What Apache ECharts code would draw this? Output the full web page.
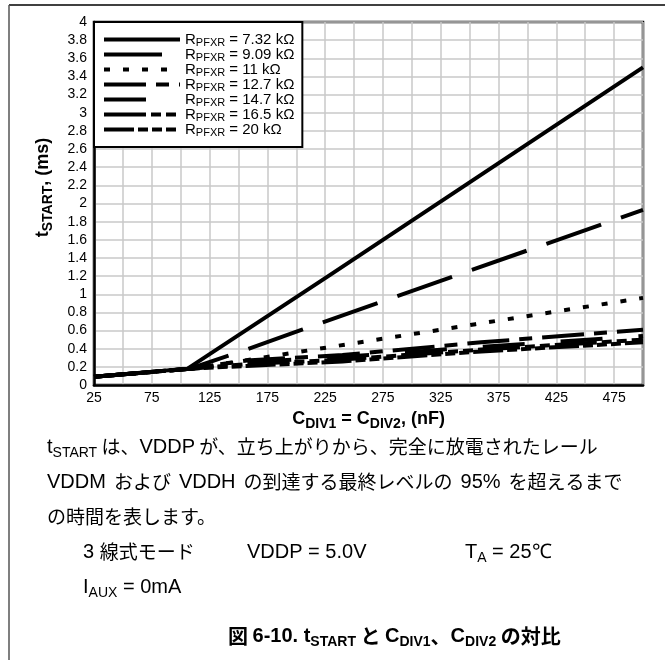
<!DOCTYPE html>
<html>
<head>
<meta charset="utf-8">
<script src="https://cdn.jsdelivr.net/npm/echarts@6/dist/echarts.min.js"></script>
<style>
  html, body { margin: 0; padding: 0; background: #fff; }
  #chart { width: 665px; height: 660px; }
</style>
</head>
<body>
<div id="chart"></div>
<script>
// Start-up time t_START (ms) against divider capacitance C_DIV1 = C_DIV2 (nF),
// one curve per R_PFXR resistor value.
const resistorLabels = ['7.32 kΩ', '9.09 kΩ', '11 kΩ', '12.7 kΩ', '14.7 kΩ', '16.5 kΩ', '20 kΩ'];

const curve7k32 = [[25, 0.09], [106, 0.18], [229, 1.21], [500, 3.5]];
const curve9k09 = [[25, 0.09], [108, 0.18], [157, 0.39], [205, 0.61], [500, 1.93]];
const curve11k  = [[25, 0.09], [110, 0.18], [355, 0.67], [500, 0.96]];
const curve12k7 = [[25, 0.09], [108, 0.18], [157, 0.27], [240, 0.33], [360, 0.47], [500, 0.61]];
const curve14k7 = [[25, 0.09], [108, 0.18], [157, 0.25], [240, 0.31], [360, 0.42], [500, 0.54]];
const curve16k5 = [[25, 0.09], [108, 0.18], [157, 0.23], [240, 0.28], [360, 0.39], [500, 0.50]];
const curve20k  = [[25, 0.09], [108, 0.18], [157, 0.21], [240, 0.26], [360, 0.37], [500, 0.47]];

const curves = [curve7k32, curve9k09, curve11k, curve12k7, curve14k7, curve16k5, curve20k];

// Axis ranges
const xMin = 25, xMax = 500, xStep = 25;
const yMin = 0, yMax = 4, yStep = 0.2;

// Dash pattern for each curve
const dashes = [
  'solid',
  [58, 21],
  [6, 13],
  [42, 10, 13, 10],
  [42, 36],
  [42, 5, 10, 5, 10, 5],
  [30, 4, 10, 4, 10, 4, 10, 4]
];

const latin = '"Liberation Sans", Arial, sans-serif';
const cjk = '"Noto Sans CJK JP", sans-serif';

const series = curves.map((pts, i) => ({
  name: resistorLabels[i],
  type: 'line',
  data: pts,
  symbol: 'none',
  showSymbol: false,
  z: 10 - i,
  lineStyle: { color: '#000', width: 4, type: dashes[i], cap: 'butt', join: 'miter' },
  itemStyle: { color: '#000' },
  emphasis: { disabled: true }
}));

const chart = echarts.init(document.getElementById('chart'), null, { renderer: 'canvas' });

// L: latin body text, W: latin word with wide spacing, J: japanese body text,
// G: japanese with a wide leading gap, s: subscript
const bodyRich = {
  L: { fontFamily: latin, fontSize: 20, color: '#000', lineHeight: 26, verticalAlign: 'middle' },
  W: { fontFamily: latin, fontSize: 20, color: '#000', lineHeight: 26, verticalAlign: 'middle', padding: [0, 8, 0, 8] },
  J: { fontFamily: cjk, fontSize: 19, color: '#000', lineHeight: 26, verticalAlign: 'middle' },
  G: { fontFamily: cjk, fontSize: 19, color: '#000', lineHeight: 26, verticalAlign: 'middle', padding: [0, 0, 0, 8] },
  s: { fontFamily: latin, fontSize: 14, color: '#000', lineHeight: 26, verticalAlign: 'bottom' }
};
const titleRich = {
  L: { fontFamily: latin, fontSize: 20, fontWeight: 'bold', color: '#000', lineHeight: 26, verticalAlign: 'middle' },
  J: { fontFamily: cjk, fontSize: 20, fontWeight: 'bold', color: '#000', lineHeight: 26, verticalAlign: 'middle' },
  s: { fontFamily: latin, fontSize: 14, fontWeight: 'bold', color: '#000', lineHeight: 26, verticalAlign: 'bottom' }
};

function textEl(x, y, text, rich) {
  return {
    type: 'text', left: x, top: y, silent: true,
    style: { text: text, rich: rich, fill: '#000' }
  };
}

const nameRich = {
  b: { fontFamily: latin, fontSize: 18, fontWeight: 'bold', color: '#000', lineHeight: 20, verticalAlign: 'middle' },
  bs: { fontFamily: latin, fontSize: 14, fontWeight: 'bold', color: '#000', lineHeight: 24, verticalAlign: 'bottom' }
};

chart.setOption({
  animation: false,
  backgroundColor: '#fff',
  grid: {
    left: 94, right: 22, top: 22, bottom: 275,
    show: true, borderColor: '#000', borderWidth: 2.5, backgroundColor: 'transparent'
  },
  legend: {
    orient: 'vertical',
    left: 94, top: 22,
    itemWidth: 76, itemHeight: 14, itemGap: -1.0,
    padding: [10, 8, 9, 8],
    backgroundColor: '#fff',
    borderColor: '#000', borderWidth: 2,
    selectedMode: false,
    lineStyle: { width: 4 },
    itemStyle: { color: 'transparent', borderWidth: 0, opacity: 0 },
    data: resistorLabels,
    formatter: name => '{r|R}{s|PFXR}{r| = ' + name + '}',
    textStyle: {
      rich: {
        r: { fontFamily: latin, fontSize: 15, color: '#000', lineHeight: 15, verticalAlign: 'middle' },
        s: { fontFamily: latin, fontSize: 11, color: '#000', lineHeight: 17, verticalAlign: 'bottom' }
      }
    }
  },
  xAxis: {
    type: 'value', min: xMin, max: xMax, interval: xStep,
    name: '{b|C}{bs|DIV1}{b| = C}{bs|DIV2}{b|, (nF)}',
    nameLocation: 'middle', nameGap: 17,
    nameTextStyle: { rich: nameRich },
    axisLine: { show: true, lineStyle: { color: '#000', width: 2.5 } },
    axisTick: { show: false },
    axisLabel: {
      color: '#000', fontFamily: latin, fontSize: 14, margin: 6,
      formatter: v => ((v - xMin) % (2 * xStep) === 0 && v < xMax) ? String(v) : ''
    },
    splitLine: { show: true, lineStyle: { color: '#c8c8c8', width: 1.5 } }
  },
  yAxis: {
    type: 'value', min: yMin, max: yMax, interval: yStep,
    name: '{b|t}{bs|START}{b|, (ms)}',
    nameLocation: 'middle', nameGap: 39, nameRotate: 90,
    nameTextStyle: { rich: nameRich, padding: [0, 0, 0, 32] },
    axisLine: { show: true, lineStyle: { color: '#000', width: 2.5 } },
    axisTick: { show: false },
    axisLabel: {
      color: '#000', fontFamily: latin, fontSize: 14, margin: 7,
      formatter: v => String(Math.round(v * 10) / 10)
    },
    splitLine: { show: true, lineStyle: { color: '#c8c8c8', width: 1.5 } }
  },
  graphic: [
    { type: 'line', silent: true, shape: { x1: 9, y1: 5, x2: 665, y2: 5 }, style: { stroke: '#000', lineWidth: 1.5 } },
    { type: 'line', silent: true, shape: { x1: 9, y1: 5, x2: 9, y2: 660 }, style: { stroke: '#555', lineWidth: 1.5 } },
    textEl(47, 437, '{L|t}{s|START}{J| は、}{L|VDDP}{J| が、立ち上がりから、完全に放電されたレール}', bodyRich),
    textEl(47, 472, '{L|VDDM}{G|および}{W|VDDH}{J|の到達する最終レベルの}{W|95%}{J|を超えるまで}', bodyRich),
    textEl(47, 507, '{J|の時間を表します。}', bodyRich),
    textEl(83, 542, '{L|3 }{J|線式モード}', bodyRich),
    textEl(247, 542, '{L|VDDP = 5.0V}', bodyRich),
    textEl(465, 542, '{L|T}{s|A}{L| = 25℃}', bodyRich),
    textEl(83, 577, '{L|I}{s|AUX}{L| = 0mA}', bodyRich),
    textEl(228, 626, '{J|図 }{L|6-10. t}{s|START}{J| と }{L|C}{s|DIV1}{J|、}{L|C}{s|DIV2}{J| の対比}', titleRich)
  ],
  series: series
});
</script>
</body>
</html>
